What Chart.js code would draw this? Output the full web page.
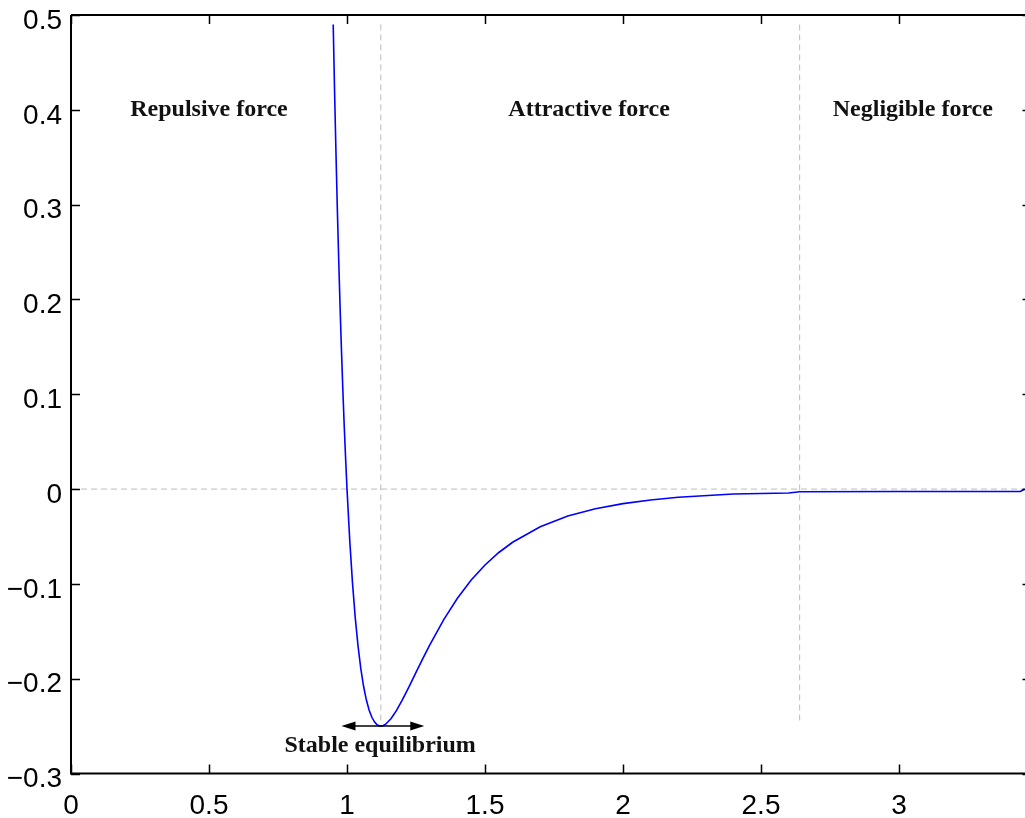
<!DOCTYPE html>
<html>
<head>
    <title>Lennard-Jones potential</title>
    <script src="https://cdn.jsdelivr.net/npm/chart.js"></script>
    <style>
        html, body {
            margin: 0;
            padding: 0;
            background: #ffffff;
            overflow: hidden;
        }
        .chart-box {
            position: relative;
            width: 1040px;
            height: 818px;
        }
    </style>
</head>
<body>
    <div class="chart-box">
        <canvas id="ljChart"></canvas>
    </div>

    <script>
        // separation r and potential V(r)
        const rValues = [0.95, 0.955, 0.96, 0.965, 0.97, 0.975, 0.98, 0.985, 0.99, 0.995,
            1.00, 1.01, 1.02, 1.03, 1.04, 1.05, 1.06, 1.07, 1.08, 1.09,
            1.10, 1.11, 1.12, 1.13, 1.14, 1.16, 1.18, 1.20, 1.225, 1.25,
            1.275, 1.30, 1.35, 1.40, 1.45, 1.50, 1.55, 1.60, 1.70, 1.80,
            1.90, 2.00, 2.10, 2.20, 2.40, 2.60, 2.64, 3.00, 3.44, 3.455];
        const vValues = [0.490, 0.419, 0.355, 0.295, 0.241, 0.191, 0.146, 0.104, 0.066, 0.032,
            0.000, -0.0546, -0.0995, -0.1361, -0.1657, -0.1894, -0.2080, -0.2223, -0.2331, -0.2407,
            -0.2458, -0.2488, -0.2500, -0.2496, -0.2480, -0.2420, -0.2332, -0.2227, -0.2084, -0.1934,
            -0.1786, -0.1643, -0.1379, -0.1152, -0.0960, -0.0801, -0.0669, -0.0561, -0.0397, -0.0285,
            -0.0208, -0.0154, -0.0115, -0.0087, -0.0052, -0.0042, -0.0028, -0.0026, -0.0025, 0.0];

        // dashed guide lines
        const zeroLineX = [0, 3.48];
        const zeroLineY = [0, 0];
        const equilibriumX = [1.1225, 1.1225];
        const cutoffX = [2.64, 2.64];
        const guideY = [0.49, -0.245];

        // region labels
        const regionNames = ['Repulsive force', 'Attractive force', 'Negligible force', 'Stable equilibrium'];
        const regionX = [0.5, 1.877, 3.05, 1.12];
        const regionY = [0.40, 0.40, 0.40, -0.271];

        // arrow under the well
        const arrowX = [0.98, 1.28];
        const arrowY = -0.25;

        const xTicks = [0, 0.5, 1, 1.5, 2, 2.5, 3];
        const xTickLabels = ['0', '0.5', '1', '1.5', '2', '2.5', '3'];
        const yTicks = [-0.3, -0.2, -0.1, 0, 0.1, 0.2, 0.3, 0.4, 0.5];
        const yTickLabels = ['\u22120.3', '\u22120.2', '\u22120.1', '0', '0.1', '0.2', '0.3', '0.4', '0.5'];

        const toPoints = (xs, ys) => xs.map((x, i) => ({ x: x, y: ys[i] }));

        const framePlugin = {
            id: 'frame',
            afterDatasetsDraw(chart) {
                const ctx = chart.ctx;
                const area = chart.chartArea;
                const xs = chart.scales.x;
                const ys = chart.scales.y;
                const tick = 9;

                ctx.save();
                ctx.strokeStyle = '#000';
                ctx.lineWidth = 2;
                ctx.beginPath();
                ctx.moveTo(area.left, area.top);
                ctx.lineTo(area.right, area.top);
                ctx.moveTo(area.left, area.top);
                ctx.lineTo(area.left, area.bottom);
                ctx.lineTo(area.right, area.bottom);
                ctx.stroke();

                ctx.lineWidth = 1.5;
                ctx.beginPath();
                xTicks.forEach(v => {
                    const px = Math.round(xs.getPixelForValue(v)) + 0.5;
                    ctx.moveTo(px, area.bottom);
                    ctx.lineTo(px, area.bottom - tick);
                    ctx.moveTo(px, area.top);
                    ctx.lineTo(px, area.top + tick);
                });
                yTicks.forEach(v => {
                    const py = Math.round(ys.getPixelForValue(v)) + 0.5;
                    ctx.moveTo(area.left, py);
                    ctx.lineTo(area.left + tick, py);
                    ctx.moveTo(area.right, py);
                    ctx.lineTo(area.right - tick, py);
                });
                ctx.stroke();

                // double arrow
                const ax0 = xs.getPixelForValue(arrowX[0]);
                const ax1 = xs.getPixelForValue(arrowX[1]);
                const ay = ys.getPixelForValue(arrowY);
                ctx.lineWidth = 1.5;
                ctx.beginPath();
                ctx.moveTo(ax0 + 6, ay);
                ctx.lineTo(ax1 - 6, ay);
                ctx.stroke();
                ctx.fillStyle = '#000';
                ctx.beginPath();
                ctx.moveTo(ax0, ay);
                ctx.lineTo(ax0 + 14, ay - 4.5);
                ctx.lineTo(ax0 + 14, ay + 4.5);
                ctx.closePath();
                ctx.moveTo(ax1, ay);
                ctx.lineTo(ax1 - 14, ay - 4.5);
                ctx.lineTo(ax1 - 14, ay + 4.5);
                ctx.closePath();
                ctx.fill();

                // labels
                ctx.font = 'bold 24px "Liberation Serif", "Times New Roman", serif';
                ctx.fillStyle = '#111';
                ctx.textAlign = 'center';
                ctx.textBaseline = 'middle';
                regionNames.forEach((name, i) => {
                    ctx.fillText(name, xs.getPixelForValue(regionX[i]), ys.getPixelForValue(regionY[i]));
                });
                ctx.restore();
            }
        };

        const tickFont = { family: '"Liberation Sans", Arial, sans-serif', size: 28 };

        new Chart(document.getElementById('ljChart'), {
            type: 'line',
            data: {
                datasets: [
                    {
                        data: toPoints(rValues, vValues),
                        borderColor: '#0000ff',
                        borderWidth: 1.6,
                        pointRadius: 0,
                        tension: 0
                    },
                    {
                        data: toPoints(zeroLineX, zeroLineY),
                        borderColor: '#bdbdbd',
                        borderWidth: 1,
                        borderDash: [6, 4],
                        pointRadius: 0
                    },
                    {
                        data: toPoints(equilibriumX, guideY),
                        borderColor: '#bdbdbd',
                        borderWidth: 1,
                        borderDash: [6, 4],
                        pointRadius: 0
                    },
                    {
                        data: toPoints(cutoffX, guideY),
                        borderColor: '#bdbdbd',
                        borderWidth: 1,
                        borderDash: [6, 4],
                        pointRadius: 0
                    }
                ]
            },
            options: {
                responsive: true,
                maintainAspectRatio: false,
                animation: false,
                layout: { padding: { top: 15, right: 8.5, left: 0, bottom: 0 } },
                plugins: {
                    legend: { display: false },
                    tooltip: { enabled: false }
                },
                scales: {
                    x: {
                        type: 'linear',
                        min: 0,
                        max: 3.48,
                        grid: { display: false, drawTicks: false },
                        border: { display: false },
                        afterBuildTicks: scale => { scale.ticks = xTicks.map(v => ({ value: v })); },
                        afterFit: scale => {
                            scale.height = 44.5;
                            scale.paddingLeft = 0;
                            scale.paddingRight = 0;
                        },
                        ticks: {
                            font: tickFont,
                            color: '#000',
                            padding: 16,
                            maxRotation: 0,
                            callback: (value, i) => xTickLabels[i]
                        }
                    },
                    y: {
                        type: 'linear',
                        min: -0.3,
                        max: 0.5,
                        grid: { display: false, drawTicks: false },
                        border: { display: false },
                        afterBuildTicks: scale => { scale.ticks = yTicks.map(v => ({ value: v })); },
                        afterFit: scale => {
                            scale.width = 71;
                            scale.paddingTop = 0;
                            scale.paddingBottom = 0;
                        },
                        ticks: {
                            font: tickFont,
                            color: '#000',
                            padding: 9,
                            labelOffset: 6,
                            callback: (value, i) => yTickLabels[i]
                        }
                    }
                }
            },
            plugins: [framePlugin]
        });
    </script>
</body>
</html>
